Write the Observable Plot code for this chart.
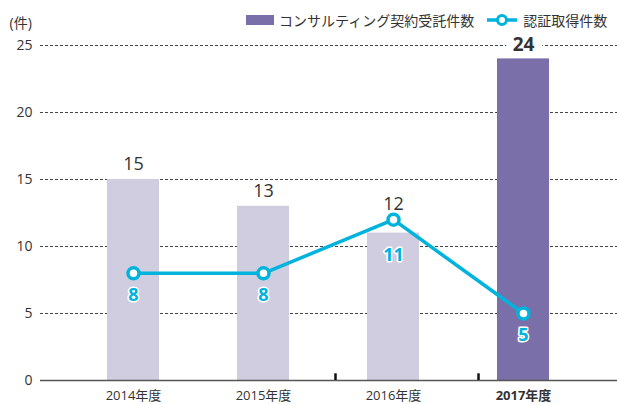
<!DOCTYPE html>
<html><head><meta charset="utf-8">
<script src="https://cdn.jsdelivr.net/npm/d3@7"></script>
<script src="https://cdn.jsdelivr.net/npm/@observablehq/plot@0.6"></script>
<style>
body{margin:0;background:#fff;font-family:"Open Sans","Noto Sans CJK JP",sans-serif;}
#wrap{position:relative;width:617px;height:404px;}
#legend{position:absolute;top:10px;left:246px;display:flex;align-items:center;font-size:14px;color:#333;font-family:"Noto Sans CJK JP",sans-serif;white-space:nowrap;}
.sw{display:inline-block;width:28px;height:10px;background:#7b6faa;margin-right:5px;}
</style></head>
<body><div id="wrap"><div id="legend"></div></div>
<script>
const years = ["2014年度","2015年度","2016年度","2017年度"];
const consulting = [15, 13, 11, 24];
const certified = [8, 8, 12, 5];
const yTicks = [0, 5, 10, 15, 20, 25];
const highlightYear = "2017年度";
const legendLabels = ["コンサルティング契約受託件数", "認証取得件数"];

const purple = "#7b6faa", lilac = "#d1cde0", cyan = "#00b3dc";
const data = years.map((y, i) => ({year: y, bar: consulting[i], line: certified[i],
  hi: Math.max(consulting[i], certified[i]), lo: Math.min(consulting[i], certified[i])}));
const font = '"Open Sans","Noto Sans CJK JP",sans-serif';
const hiData = data.filter(d => d.year === highlightYear);
const restData = data.filter(d => d.year !== highlightYear);

const chart = Plot.plot({
  width: 617, height: 404,
  marginLeft: 40, marginRight: 0, marginTop: 45, marginBottom: 24,
  style: {fontFamily: font, fontSize: "13px", color: "#333", background: "transparent"},
  x: {type: "band", domain: years, range: [105, 550], paddingInner: 0.6, paddingOuter: 0, axis: null},
  y: {domain: [0, 25], ticks: yTicks, axis: null},
  marks: [
    Plot.ruleY(yTicks.filter(d => d > 0), {stroke: "#444", strokeDasharray: "3,2", strokeWidth: 1}),
    Plot.text(hiData, {x: "year", y: "hi", text: d => String(d.hi), dy: -14, fontSize: 19, fontWeight: "bold", fill: "white", stroke: "white", strokeWidth: 16}),
    Plot.barY(data, {x: "year", y: "bar", fill: d => d.year === highlightYear ? purple : lilac}),
    Plot.ruleY([0], {stroke: "#555", strokeWidth: 1.5}),
    Plot.ruleX(["2016年度"], {x: d => d, dx: -58, y1: 0, y2: 0.5, stroke: "#111", strokeWidth: 2.5}),
    Plot.ruleX(["2017年度"], {x: d => d, dx: -45, y1: 0, y2: 0.5, stroke: "#111", strokeWidth: 2.5}),
    Plot.axisY({ticks: yTicks, tickSize: 0, tickPadding: 8, fontSize: 14, fill: "#333", label: null}),
    Plot.text(["(件)"], {frameAnchor: "top-left", dx: -31, dy: -27, fontSize: 14, fill: "#333", textAnchor: "start"}),
    Plot.text(restData, {x: "year", y: 0, text: "year", dy: 15, fontSize: 13, fill: "#333"}),
    Plot.text(hiData, {x: "year", y: 0, text: "year", dy: 15, fontSize: 13, fill: "#333", fontWeight: "bold"}),
    Plot.line(data, {x: "year", y: "line", stroke: cyan, strokeWidth: 3.5}),
    Plot.dot(data, {x: "year", y: "line", r: 5.5, fill: "white", stroke: cyan, strokeWidth: 3.5}),
    Plot.text(restData, {x: "year", y: "hi", text: d => String(d.hi), dy: -15, fontSize: 18, fill: "#333"}),
    Plot.text(hiData, {x: "year", y: "hi", text: d => String(d.hi), dy: -14, fontSize: 19, fontWeight: "bold", fill: "#333"}),
    Plot.text(data, {x: "year", y: "lo", text: d => String(d.lo), dy: 22, fontSize: 18, fontWeight: "bold", fill: cyan, stroke: "white", strokeWidth: 3, paintOrder: "stroke"})
  ]
});
document.getElementById("wrap").appendChild(chart);

const lg = document.getElementById("legend");
lg.innerHTML = `<span class="sw"></span><span>${legendLabels[0]}</span>
<svg width="32" height="14" style="margin-left:12px;margin-right:5px"><line x1="1" y1="7" x2="31" y2="7" stroke="${cyan}" stroke-width="3.5"/><circle cx="16" cy="7" r="4.5" fill="white" stroke="${cyan}" stroke-width="3"/></svg><span>${legendLabels[1]}</span>`;
</script></body></html>
